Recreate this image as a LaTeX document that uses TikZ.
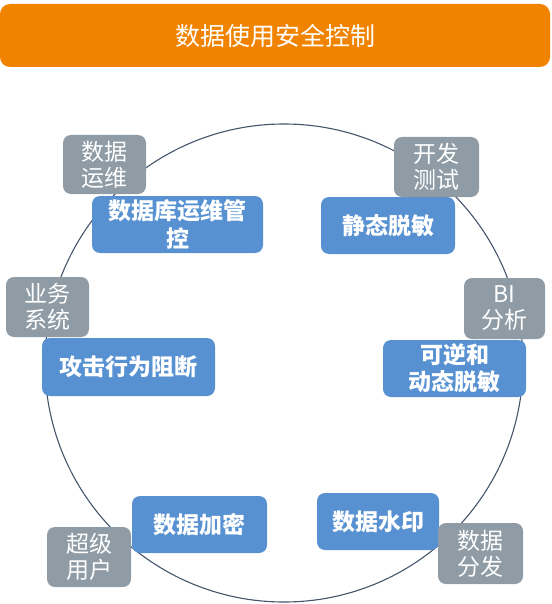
\documentclass[tikz,border=0pt]{standalone}
\usepackage{fontspec}
\newfontfamily\cjk{Noto Sans CJK SC}
\definecolor{titleorange}{HTML}{F08300}
\definecolor{boxblue}{HTML}{5791D2}
\definecolor{boxgray}{HTML}{8F9CA6}
\definecolor{ringcol}{HTML}{44546A}
\tikzset{
  bluebox/.style={fill=boxblue, rounded corners=8pt, text=white, align=center,
    font=\cjk\bfseries\fontsize{23}{28}\selectfont, inner sep=0pt},
  graybox/.style={fill=boxgray, rounded corners=8pt, text=white, align=center,
    font=\cjk\fontsize{23}{26}\selectfont, inner sep=0pt, minimum width=84pt, minimum height=60pt},
  titlebox/.style={fill=titleorange, rounded corners=10pt, text=white,
    font=\cjk\fontsize{25}{30}\selectfont, inner sep=0pt, minimum width=550pt, minimum height=63pt}
}
\begin{document}
\begin{tikzpicture}[x=1pt,y=-1pt]
\useasboundingbox (0,0) rectangle (551,604);
\node[titlebox] (title) at (275,35.5) {数据使用安全控制};
\node[draw=ringcol, line width=1.1pt, circle, minimum size=478pt, inner sep=0pt] (ring) at (284,363) {};
% blue boxes
\node[bluebox, minimum width=171pt, minimum height=57pt] (b1) at (177.5,224.5) {数据库运维管\\控};
\node[bluebox, minimum width=134pt, minimum height=57pt] (b2) at (388,225.5) {静态脱敏};
\node[bluebox, minimum width=173pt, minimum height=58pt] (b3) at (128.5,367) {攻击行为阻断};
\node[bluebox, minimum width=143pt, minimum height=57pt, font=\cjk\bfseries\fontsize{23}{27}\selectfont] (b4) at (454.5,368.5) {可逆和\\动态脱敏};
\node[bluebox, minimum width=135pt, minimum height=57pt] (b5) at (199.5,524.5) {数据加密};
\node[bluebox, minimum width=122pt, minimum height=57pt] (b6) at (378,521.5) {数据水印};
% gray boxes
\node[graybox, minimum width=83pt, minimum height=59pt] (g1) at (104.5,164.5) {数据\\运维};
\node[graybox, minimum width=85pt] (g2) at (436.5,167) {开发\\测试};
\node[graybox, minimum width=83pt] (g3) at (47.5,307) {业务\\系统};
\node[graybox, minimum width=81pt, minimum height=61pt] (g4) at (504.5,308.5) {BI\\分析};
\node[graybox] (g5) at (89,557) {超级\\用户};
\node[graybox, minimum width=85pt, minimum height=61pt] (g6) at (480.5,553.5) {数据\\分发};
\end{tikzpicture}
\end{document}
